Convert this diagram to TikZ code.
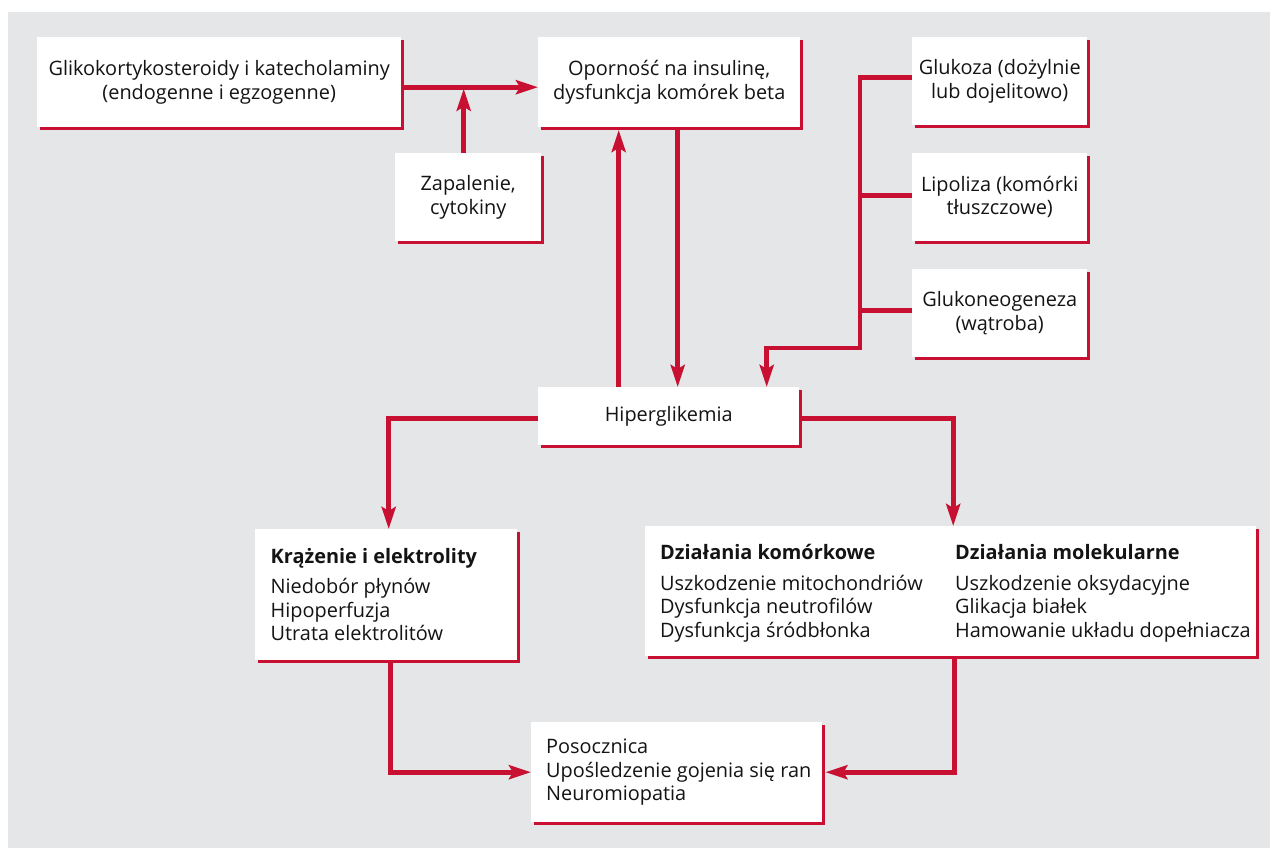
\documentclass[tikz,border=0pt]{standalone}
\usepackage{fontspec}
\setmainfont{Open Sans}
\usetikzlibrary{arrows.meta,shadows,calc}
\definecolor{crim}{RGB}{200,16,50}
\definecolor{bggray}{RGB}{229,230,232}
\definecolor{txt}{RGB}{20,20,20}
\begin{document}
\begin{tikzpicture}[x=1pt,y=-1pt,
  box/.style={fill=white, inner sep=0pt, anchor=north west, text=txt, align=center,
    font=\fontsize{19.9}{23.5}\selectfont,
    drop shadow={shadow xshift=3pt, shadow yshift=-3pt, fill=crim, opacity=1}},
  lbl/.style={inner sep=0pt, text=txt, align=left, font=\fontsize{19.9}{23.5}\selectfont},
  conn/.style={draw=crim, line width=4.8pt},
  arr/.style={conn, -{Stealth[length=22pt,width=14pt,inset=4pt]}}
]
\useasboundingbox (0,0) rectangle (1277,848);
\fill[bggray] (8,12) rectangle (1270,848);

% boxes
\node[box, minimum width=364pt, minimum height=90pt] (gliko) at (37,37)
  {Glikokortykosteroidy i katecholaminy\\(endogenne i egzogenne)};
\node[box, minimum width=262pt, minimum height=90pt] (opor) at (538,37)
  {Oporność na insulinę,\\dysfunkcja komórek beta};
\node[box, minimum width=146pt, minimum height=88pt] (zap) at (395,153)
  {Zapalenie,\\cytokiny};
\node[box, minimum width=175pt, minimum height=88pt] (gluk) at (912,37)
  {Glukoza (dożylnie\\lub dojelitowo)};
\node[box, minimum width=175pt, minimum height=88pt] (lipo) at (912,153)
  {Lipoliza (komórki\\tłuszczowe)};
\node[box, minimum width=175pt, minimum height=88pt] (glun) at (912,269)
  {Glukoneogeneza\\(wątroba)};
\node[box, minimum width=261pt, minimum height=58pt] (hip) at (538,387)
  {Hiperglikemia};
\node[box, minimum width=262pt, minimum height=131pt] (kraz) at (255,529) {};
\node[box, minimum width=611pt, minimum height=130pt] (dzial) at (645,526) {};
\node[box, minimum width=291pt, minimum height=100pt] (pos) at (531,722) {};

% texts of left-aligned boxes
\node[lbl, anchor=west] (krazt) at ([xshift=15.5pt]kraz.west)
  {\textbf{Krążenie i elektrolity}\\[7pt]Niedobór płynów\\Hipoperfuzja\\Utrata elektrolitów};
\node[lbl, anchor=west] (dz1) at ([xshift=15pt,yshift=-2pt]dzial.west)
  {\textbf{Działania komórkowe}\\[7pt]Uszkodzenie mitochondriów\\Dysfunkcja neutrofilów\\Dysfunkcja śródbłonka};
\node[lbl, anchor=west] (dz2) at ([xshift=310pt,yshift=-2pt]dzial.west)
  {\textbf{Działania molekularne}\\[7pt]Uszkodzenie oksydacyjne\\Glikacja białek\\Hamowanie układu dopełniacza};
\node[lbl, anchor=west] (post) at ([xshift=15pt]pos.west)
  {Posocznica\\Upośledzenie gojenia się ran\\Neuromiopatia};

% connectors
\coordinate (g1) at ([yshift=-5pt]gliko.east);
\coordinate (g2) at (g1 -| opor.west);
\draw[arr] (g1) -- (g2);

\coordinate (z0) at ([xshift=-4.5pt]zap.north);
\coordinate (z1) at (z0 |- g1);
\draw[arr] (z0) -- ([yshift=-1.5pt]z1);

\coordinate (u0) at ([xshift=-50pt]hip.north);
\coordinate (u1) at (u0 |- opor.south);
\draw[arr] (u0) -- ([yshift=-2.5pt]u1);

\coordinate (d0) at ([xshift=8.5pt]opor.south);
\coordinate (d1) at (d0 |- hip.north);
\draw[arr] (d0) -- (d1);

\coordinate (jn) at (860,348);
\coordinate (gw) at ([yshift=4pt]gluk.west);
\coordinate (h1) at ([xshift=98pt]hip.north);
\draw[arr] (gw) -| (jn) -| (h1);
\coordinate (lw) at ([yshift=2pt]lipo.west);
\draw[conn] (lw) -- (lw -| jn);
\coordinate (nw) at ([yshift=3pt]glun.west);
\draw[conn] (nw) -- (nw -| jn);

\coordinate (hw) at ([yshift=-2pt]hip.west);
\coordinate (kt) at ([xshift=2.5pt]kraz.north);
\draw[arr] (hw) -| (kt);
\coordinate (he) at ([yshift=-2pt]hip.east);
\coordinate (dt) at ([xshift=2.5pt]dzial.north);
\draw[arr] (he) -| (dt);

\coordinate (kb) at ([xshift=4pt]kraz.south);
\draw[arr] (kb) |- (pos.west);
\coordinate (db) at ([xshift=3.5pt]dzial.south);
\coordinate (pe) at ([xshift=3pt]pos.east);
\draw[arr] (db) |- (pe);
\end{tikzpicture}
\end{document}
